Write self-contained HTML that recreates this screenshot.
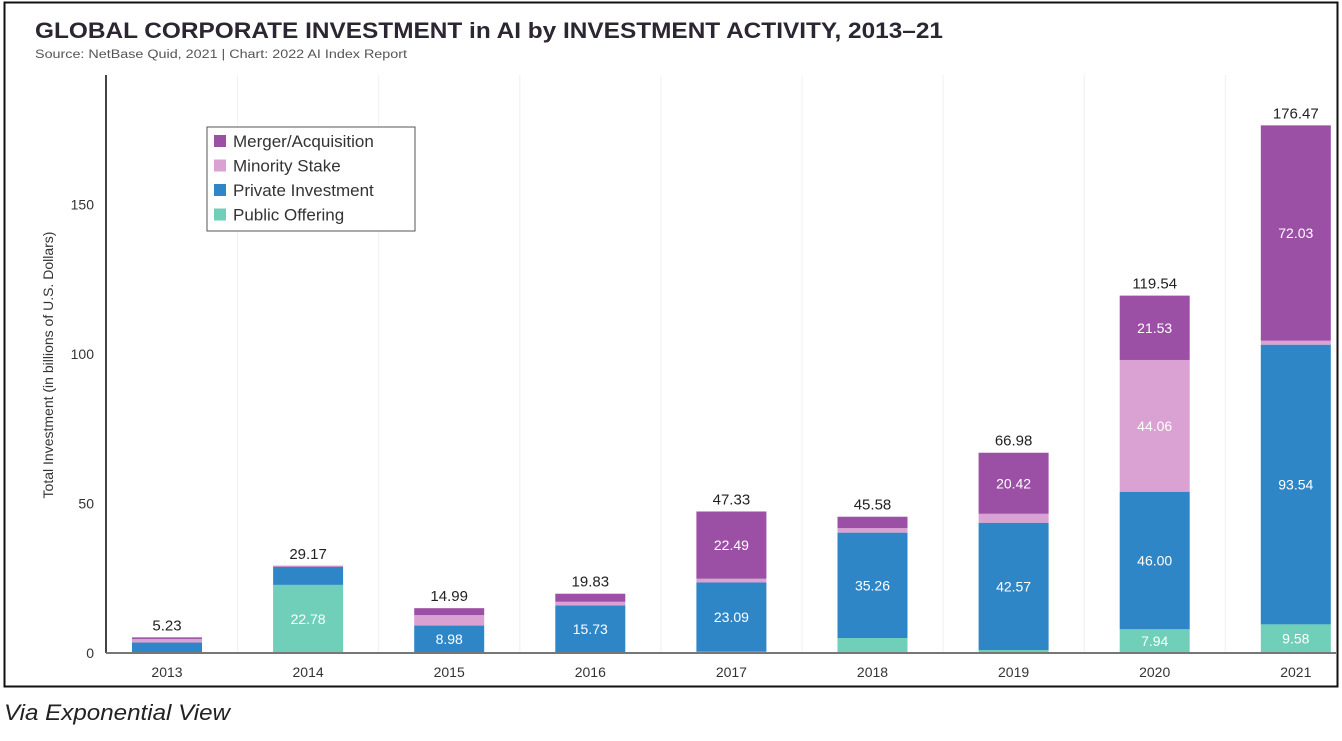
<!DOCTYPE html>
<html><head><meta charset="utf-8">
<style>
body{margin:0;width:1342px;height:736px;background:#fff;overflow:hidden;font-family:"Liberation Sans",sans-serif;}
</style></head>
<body>
<svg width="1342" height="736" viewBox="0 0 1342 736">
<rect x="4.5" y="2.5" width="1333" height="684" fill="#fff" stroke="#111" stroke-width="2"/>
<text x="35" y="38" font-size="22" font-weight="bold" fill="#2b2632" textLength="908" lengthAdjust="spacingAndGlyphs">GLOBAL CORPORATE INVESTMENT in AI by INVESTMENT ACTIVITY, 2013–21</text>
<text x="35" y="58" font-size="11.5" fill="#555" textLength="372" lengthAdjust="spacingAndGlyphs">Source: NetBase Quid, 2021 | Chart: 2022 AI Index Report</text>
<g id="grid"></g>
<g id="bars"></g>
<line x1="106" y1="75" x2="106" y2="653" stroke="#444" stroke-width="2"/>
<line x1="106" y1="653" x2="1336" y2="653" stroke="#777" stroke-width="2"/>
<g id="yticks"></g>
<g id="xticks"></g>
<text transform="translate(53,365) rotate(-90)" text-anchor="middle" font-size="14" fill="#333">Total Investment (in billions of U.S. Dollars)</text>
<g>
<rect x="207" y="127" width="208" height="104" fill="#fff" stroke="#555" stroke-width="1"/>
<g id="legend"></g>
</g>
<text x="4" y="720" font-size="22" font-style="italic" fill="#222" font-family="'Liberation Sans Narrow','Liberation Sans',sans-serif" textLength="226" lengthAdjust="spacingAndGlyphs">Via Exponential View</text>
</svg>
<script>
const years=["2013","2014","2015","2016","2017","2018","2019","2020","2021"];
const publicOffering=[0,22.78,0.2,0.2,0.5,5.0,1.0,7.94,9.58];
const privateInvestment=[3.5,6.0,8.98,15.73,23.09,35.26,42.57,46.00,93.54];
const minorityStake=[1.2,0.2,3.5,1.2,1.25,1.5,2.99,44.06,1.32];
const mergerAcquisition=[0.53,0.19,2.31,2.7,22.49,3.82,20.42,21.53,72.03];
const totals=["5.23","29.17","14.99","19.83","47.33","45.58","66.98","119.54","176.47"];
const segLabels=[
 [null,null,null,null],
 ["22.78",null,null,null],
 [null,"8.98",null,null],
 [null,"15.73",null,null],
 [null,"23.09",null,"22.49"],
 [null,"35.26",null,null],
 [null,"42.57",null,"20.42"],
 ["7.94","46.00","44.06","21.53"],
 ["9.58","93.54",null,"72.03"]];
const yTicks=[0,50,100,150];
const seriesNames=["Merger/Acquisition","Minority Stake","Private Investment","Public Offering"];
const NS="http://www.w3.org/2000/svg";
const colors=["#6fcfb8","#2f86c6","#d9a2d3","#9b50a6"];
const y0=653, pxPer=2.99;
function y(v){return y0-v*pxPer;}
function xc(i){return 167+i*141.1;}
const bw=70;
function mk(tag,attrs,parent){const e=document.createElementNS(NS,tag);for(const k in attrs)e.setAttribute(k,attrs[k]);parent.appendChild(e);return e;}
const grid=document.getElementById('grid'),bars=document.getElementById('bars');
years.forEach((yr,i)=>{
  if(i>0){const gl=mk('line',{x1:xc(i)-70.5,x2:xc(i)-70.5,y1:75,y2:652,stroke:'#f0f0f0','stroke-width':1},grid);
  
  }
  const vals=[publicOffering[i],privateInvestment[i],minorityStake[i],mergerAcquisition[i]];
  const names=['public-offering','private-investment','minority-stake','merger-acquisition'];
  let acc=0;
  vals.forEach((v,s)=>{
    const r=mk('rect',{x:xc(i)-bw/2,y:y(acc+v),width:bw,height:v*pxPer,fill:colors[s]},bars);
    
    
    const lab=segLabels[i][s];
    if(lab){const t=mk('text',{x:xc(i),y:y(acc+v/2)+5,'text-anchor':'middle','font-size':14,fill:'#fff'},bars);t.textContent=lab;
      
      }
    acc+=v;
  });
  const tt=mk('text',{x:xc(i),y:y(acc)-7,'text-anchor':'middle','font-size':15,fill:'#222'},bars);tt.textContent=totals[i];
  
  
  const xt=mk('text',{x:xc(i),y:677,'text-anchor':'middle','font-size':14,fill:'#333'},document.getElementById('xticks'));xt.textContent=yr;
  
  
});
yTicks.forEach(v=>{
  const t=mk('text',{x:94,y:y(v)+5,'text-anchor':'end','font-size':14,fill:'#333'},document.getElementById('yticks'));t.textContent=v;
  
  
});
const lg=document.getElementById('legend');
const lc=["#9b50a6","#d9a2d3","#2f86c6","#6fcfb8"];
seriesNames.forEach((n,k)=>{
  const r=mk('rect',{x:214,y:135+k*24.5,width:12,height:12,fill:lc[k]},lg);
  
  
  const t=mk('text',{x:233,y:147+k*24.5,'font-size':17,fill:'#333'},lg);t.textContent=n;
  
  
});
</script>
</body></html>
